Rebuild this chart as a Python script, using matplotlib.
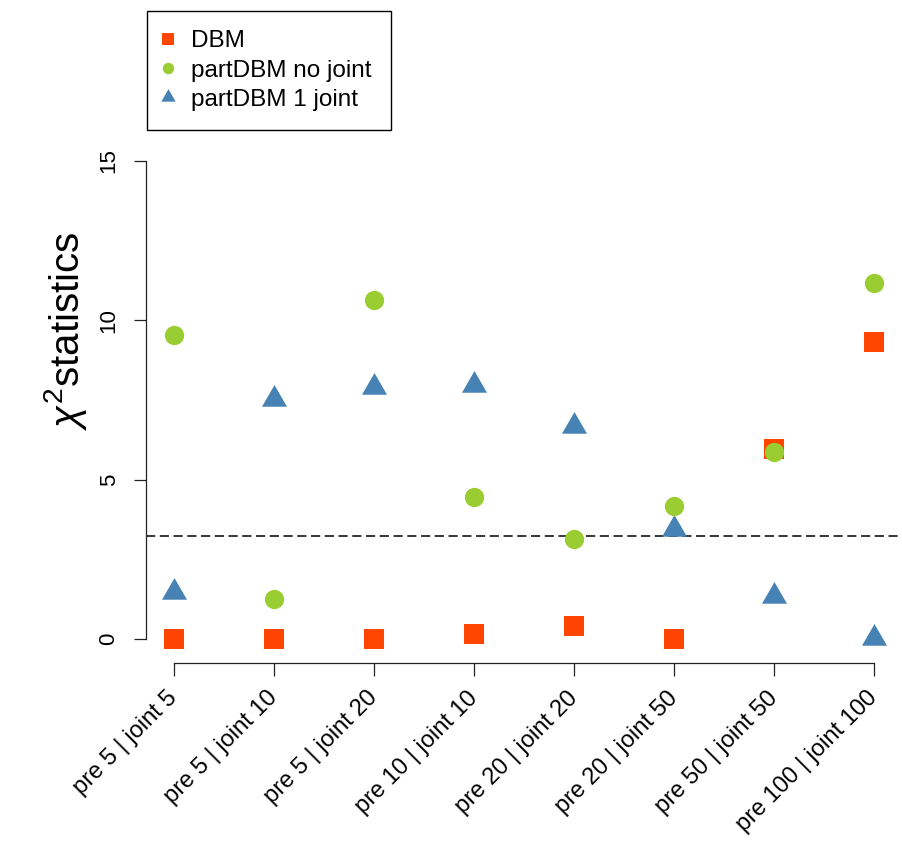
import matplotlib
matplotlib.use("Agg")
import matplotlib.pyplot as plt
from matplotlib.lines import Line2D
from matplotlib.markers import MarkerStyle
from matplotlib.path import Path

plt.rcParams['font.family'] = ['Liberation Sans', 'DejaVu Sans']
plt.rcParams['mathtext.fontset'] = 'custom'
plt.rcParams['mathtext.rm'] = 'Liberation Sans'
plt.rcParams['mathtext.it'] = 'Liberation Sans:italic'
plt.rcParams['mathtext.bf'] = 'Liberation Sans:bold'

categories = ["pre 5 | joint 5", "pre 5 | joint 10", "pre 5 | joint 20",
              "pre 10 | joint 10", "pre 20 | joint 20", "pre 20 | joint 50",
              "pre 50 | joint 50", "pre 100 | joint 100"]
dbm = [0.0, 0.0, 0.0, 0.16, 0.41, 0.0, 5.96, 9.31]
part_no_joint = [9.55, 1.26, 10.65, 4.47, 3.14, 4.19, 5.88, 11.18]
part_1_joint = [1.48, 7.54, 7.92, 7.97, 6.70, 3.47, 1.35, 0.03]
threshold = 3.24
yticks = [0, 5, 10, 15]

c_dbm = '#FF4500'
c_no = '#9ACD32'
c_one = '#4682B4'

W, H = 902, 844
fig = plt.figure(figsize=(W / 100, H / 100), dpi=100)
left, right, bottom, top = 146, 902, 663, 141
ax = fig.add_axes([left / W, 1 - bottom / H, (right - left) / W, (bottom - top) / H])

x = list(range(1, len(categories) + 1))
tri = MarkerStyle(Path([(0, 1), (-0.866, -0.5), (0.866, -0.5), (0, 1)],
                       [Path.MOVETO, Path.LINETO, Path.LINETO, Path.CLOSEPOLY]))

ax.axhline(threshold, color='black', lw=1.1, ls=(0, (6, 3)), zorder=1)
ax.plot(x, dbm, ls='none', marker='s', ms=13.7, mew=0, color=c_dbm, zorder=3)
ax.plot(x, part_no_joint, ls='none', marker='o', ms=13.9, mew=0, color=c_no, zorder=4)
ax.plot(x, part_1_joint, ls='none', marker=tri, ms=20.8, mew=0, color=c_one, zorder=3)

ax.set_xlim(0.72, 8.28)
ax.set_ylim(-0.743, 15.62)

for s in ['top', 'right']:
    ax.spines[s].set_visible(False)
ax.spines['left'].set_bounds(0, 15)
ax.spines['bottom'].set_bounds(1, 8)
for s in ['left', 'bottom']:
    ax.spines[s].set_linewidth(0.9)
    ax.spines[s].set_color('#222222')

ax.set_yticks(yticks)
ax.set_yticklabels([str(v) for v in yticks], rotation=90, va='center', fontsize=16)
ax.set_xticks(x)
ax.set_xticklabels(categories, rotation=45, ha='right', va='center',
                   rotation_mode='anchor', fontsize=17)
ax.tick_params(axis='y', length=9, width=0.9, pad=10, color='#222222')
ax.tick_params(axis='x', length=9.3, width=0.9, pad=13.5, color='#222222')

ax.set_ylabel(r'$\chi^2$statistics', fontsize=29)
ax.yaxis.set_label_coords(89 / W, 1 - 331 / H, transform=fig.transFigure)

handles = [
    Line2D([], [], ls='none', marker='s', ms=8, mew=0, color=c_dbm),
    Line2D([], [], ls='none', marker='o', ms=8.2, mew=0, color=c_no),
    Line2D([], [], ls='none', marker=tri, ms=12, mew=0, color=c_one),
]
leg = fig.legend(handles, ['DBM', 'partDBM no joint', 'partDBM 1 joint'],
                 loc='upper left', bbox_to_anchor=(147 / W, 1 - 11 / H),
                 borderaxespad=0, frameon=True, fancybox=False,
                 edgecolor='black', framealpha=1, fontsize=17.5,
                 handlelength=0.1, handletextpad=0.93, borderpad=0.8,
                 labelspacing=0.29)
leg.get_frame().set_linewidth(1.0)

fig.savefig('out.png', dpi=100)
